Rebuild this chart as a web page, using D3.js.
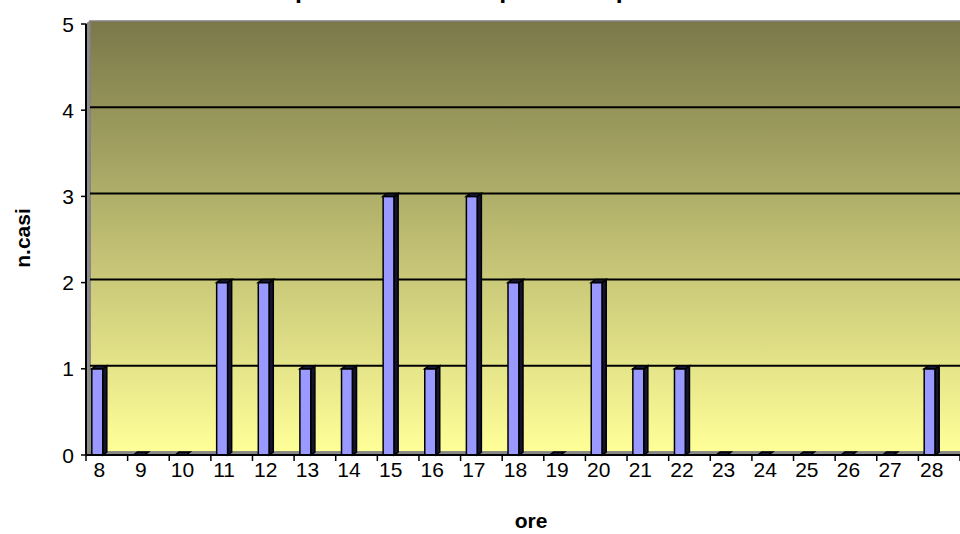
<!DOCTYPE html>
<html>
<head>
<meta charset="utf-8">
<script src="https://cdn.jsdelivr.net/npm/d3@7"></script>
<style>
  html, body { margin: 0; padding: 0; background: #ffffff; }
  svg { display: block; font-family: "Liberation Sans", Arial, sans-serif; }
</style>
</head>
<body>
<svg id="chart" width="960" height="534"></svg>
<script>
// Hours of the day (category axis) and number of cases per hour
const hours  = ["8","9","10","11","12","13","14","15","16","17","18","19","20","21","22","23","24","25","26","27","28"];
const counts = [1, 0, 0, 2, 2, 1, 1, 3, 1, 3, 2, 0, 2, 1, 1, 0, 0, 0, 0, 0, 1];
const yTicks = [0, 1, 2, 3, 4, 5];

const titleText = "Casi per orario di comparsa dei primi sintomi";
const xTitle = "ore";
const yTitle = "n.casi";

const svg = d3.select("#chart");

// front plane of the plot and 3D depth offset of the back wall
const plotLeft = 86, plotRight = 960, plotBottom = 455, plotTop = 24;
const dx = 4, dy = -3;

const x = d3.scaleBand().domain(hours).range([plotLeft, plotRight]).padding(0);
const y = d3.scaleLinear().domain([0, 5]).range([plotBottom, plotTop]);
const bw = x.bandwidth();

// bar geometry relative to band centre
const barOff = -15, barW = 11;

// gradient for the back wall
const defs = svg.append("defs");
const grad = defs.append("linearGradient").attr("id", "wallGrad")
  .attr("x1", 0).attr("y1", 0).attr("x2", 0).attr("y2", 1);
grad.append("stop").attr("offset", "0%").attr("stop-color", "#7a7849");
grad.append("stop").attr("offset", "100%").attr("stop-color", "#ffff99");

// back wall
svg.append("rect")
  .attr("x", plotLeft + dx).attr("y", y(5) + dy)
  .attr("width", plotRight - plotLeft + 10).attr("height", y(0) - y(5))
  .attr("fill", "url(#wallGrad)")
  .attr("stroke", "#808080").attr("stroke-width", 1.5);

// side wall (left)
svg.append("path")
  .attr("d", `M${plotLeft},${y(5)} L${plotLeft + dx},${y(5) + dy} L${plotLeft + dx},${y(0) + dy} L${plotLeft},${y(0)} Z`)
  .attr("fill", "#8c8c8c").attr("stroke", "#808080").attr("stroke-width", 1);

// floor
svg.append("path")
  .attr("d", `M${plotLeft},${y(0)} L${plotLeft + dx},${y(0) + dy} L${plotRight + dx + 10},${y(0) + dy} L${plotRight + 10},${y(0)} Z`)
  .attr("fill", "#8c8c8c").attr("stroke", "#808080").attr("stroke-width", 1);

// gridlines on the back wall
svg.append("g").selectAll("line")
  .data(yTicks.filter(v => v > 0 && v < 5))
  .join("line")
  .attr("x1", plotLeft + dx).attr("x2", plotRight + 10)
  .attr("y1", d => y(d) + dy).attr("y2", d => y(d) + dy)
  .attr("stroke", "#000").attr("stroke-width", 2);

// bars: front face, right side face, top face
const bars = svg.append("g").selectAll("g")
  .data(hours.map((h, i) => ({ h, v: counts[i] })))
  .join("g");

bars.each(function(d) {
  const g = d3.select(this);
  const x0 = x(d.h) + bw / 2 + barOff;
  const x1 = x0 + barW;
  const yt = y(d.v), yb = y(0);
  if (d.v > 0) {
    g.append("rect")
      .attr("x", x0).attr("y", yt).attr("width", barW).attr("height", yb - yt)
      .attr("fill", "#9999ff").attr("stroke", "#000").attr("stroke-width", 1.5);
    g.append("path")
      .attr("d", `M${x1},${yt} L${x1 + dx},${yt + dy} L${x1 + dx},${yb + dy} L${x1},${yb} Z`)
      .attr("fill", "#14142e").attr("stroke", "#000").attr("stroke-width", 1.5);
  }
  g.append("path")
    .attr("d", `M${x0},${yt} L${x0 + dx},${yt + dy} L${x1 + dx},${yt + dy} L${x1},${yt} Z`)
    .attr("fill", "#1a1a3a").attr("stroke", "#000").attr("stroke-width", 1.5);
});

// y axis
svg.append("line")
  .attr("x1", plotLeft).attr("x2", plotLeft).attr("y1", y(0)).attr("y2", y(5))
  .attr("stroke", "#000").attr("stroke-width", 2);
const yg = svg.append("g");
yg.selectAll("line").data(yTicks).join("line")
  .attr("x1", plotLeft - 5).attr("x2", plotLeft)
  .attr("y1", d => y(d)).attr("y2", d => y(d))
  .attr("stroke", "#000").attr("stroke-width", 1.5);
yg.selectAll("text").data(yTicks).join("text")
  .attr("x", plotLeft - 12).attr("y", d => y(d)).attr("dy", "0.36em")
  .attr("text-anchor", "end").attr("font-size", 21).attr("fill", "#000")
  .text(d => d);

// x axis
svg.append("line")
  .attr("x1", plotLeft).attr("x2", plotRight).attr("y1", y(0)).attr("y2", y(0))
  .attr("stroke", "#000").attr("stroke-width", 2);
const xg = svg.append("g");
xg.selectAll("line").data(hours.concat(["end"])).join("line")
  .attr("x1", (d, i) => plotLeft + i * bw).attr("x2", (d, i) => plotLeft + i * bw)
  .attr("y1", y(0)).attr("y2", y(0) + 6)
  .attr("stroke", "#000").attr("stroke-width", 1.5);
xg.selectAll("text").data(hours).join("text")
  .attr("x", d => x(d) + bw / 2 + barOff + (barW + dx) / 2)
  .attr("y", 477)
  .attr("text-anchor", "middle").attr("font-size", 21).attr("fill", "#000")
  .text(d => d);

// titles
svg.append("text")
  .attr("x", 504).attr("y", -2)
  .attr("text-anchor", "middle").attr("font-size", 25).attr("font-weight", "bold")
  .text(titleText);

svg.append("text")
  .attr("x", 531).attr("y", 528)
  .attr("text-anchor", "middle").attr("font-size", 21).attr("font-weight", "bold")
  .text(xTitle);

svg.append("text")
  .attr("transform", "translate(30,238) rotate(-90)")
  .attr("text-anchor", "middle").attr("font-size", 21).attr("font-weight", "bold")
  .text(yTitle);
</script>
</body>
</html>
